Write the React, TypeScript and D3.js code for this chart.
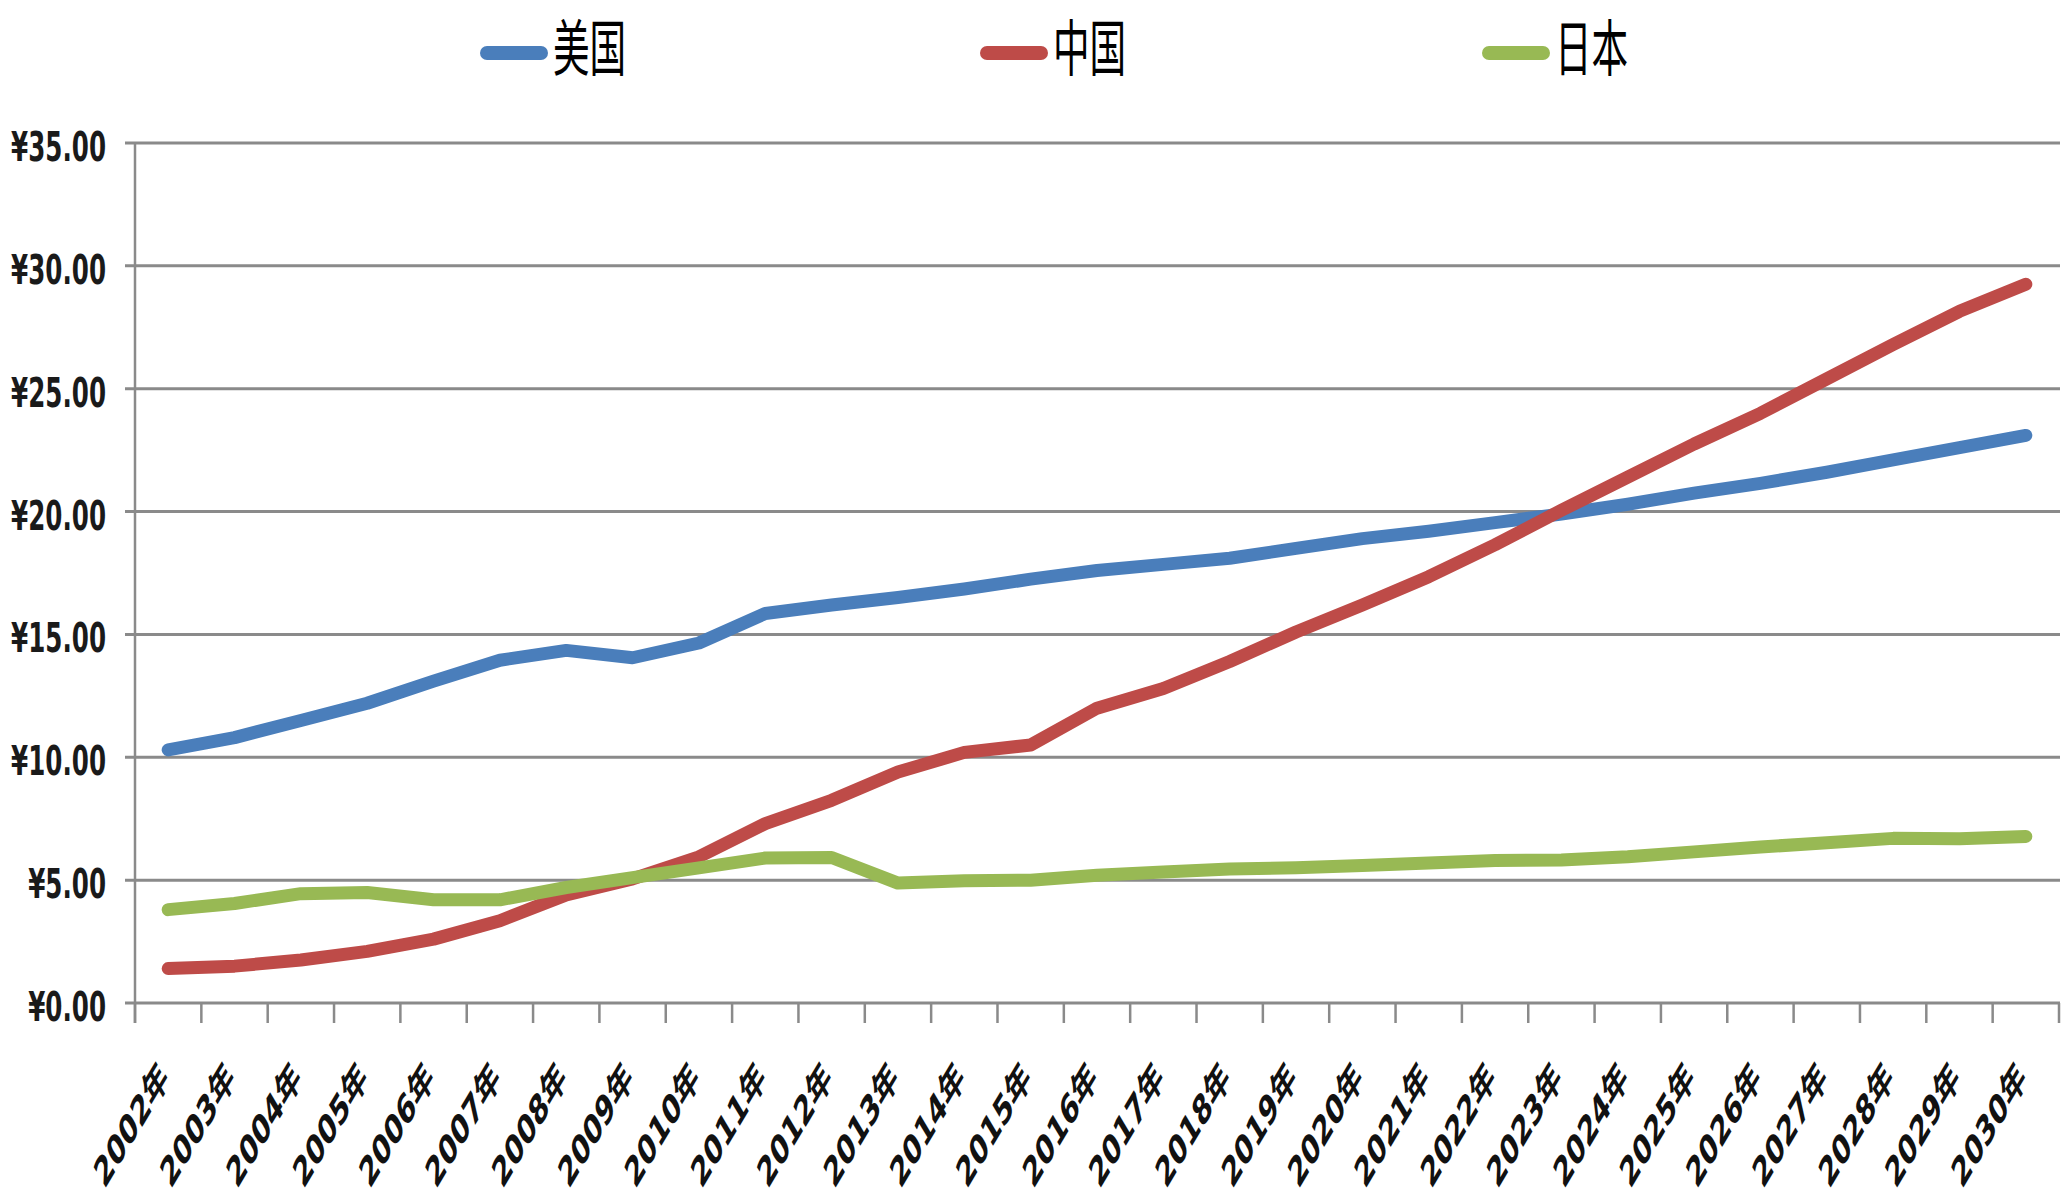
import * as d3 from 'd3';

const years = [
  '2002年', '2003年', '2004年', '2005年', '2006年', '2007年', '2008年', '2009年', '2010年', '2011年',
  '2012年', '2013年', '2014年', '2015年', '2016年', '2017年', '2018年', '2019年', '2020年', '2021年',
  '2022年', '2023年', '2024年', '2025年', '2026年', '2027年', '2028年', '2029年', '2030年',
];

const usa = [10.3, 10.8, 11.5, 12.2, 13.1, 13.95, 14.35, 14.05, 14.65, 15.85, 16.2, 16.5, 16.85, 17.25, 17.6,
  17.85, 18.1, 18.5, 18.9, 19.2, 19.55, 19.9, 20.3, 20.75, 21.15, 21.6, 22.1, 22.6, 23.1];
const china = [1.4, 1.5, 1.75, 2.1, 2.6, 3.35, 4.4, 5.05, 5.95, 7.3, 8.25, 9.4, 10.2, 10.5, 12.0,
  12.8, 13.9, 15.1, 16.2, 17.35, 18.65, 20.05, 21.4, 22.75, 24.0, 25.4, 26.8, 28.15, 29.25];
const japan = [3.8, 4.05, 4.45, 4.5, 4.2, 4.2, 4.7, 5.1, 5.5, 5.9, 5.92, 4.88, 4.98, 5.0, 5.2,
  5.33, 5.45, 5.5, 5.6, 5.7, 5.8, 5.82, 5.95, 6.15, 6.35, 6.52, 6.7, 6.68, 6.78];

const seriesNames = ['美国', '中国', '日本'];
const seriesColors = ['#4A7EBB', '#BE4B48', '#98B954'];
const yTicks = [0, 5, 10, 15, 20, 25, 30, 35];

// the picture is squeezed sideways, so text gets a horizontal squash
const SQ = 0.6;
const W = 2068;
const H = 1196;
const margin = { left: 135, right: 2059, top: 143, bottom: 1003 };

export default function App() {
  const series = [usa, china, japan];

  const x = d3.scaleBand<string>().domain(years).range([margin.left, margin.right]).paddingInner(0);
  const y = d3.scaleLinear().domain([0, 35]).range([margin.bottom, margin.top]);
  const cx = (c: string) => (x(c) as number) + x.bandwidth() / 2;

  const line = d3.line<number>()
    .x((_, i) => cx(years[i]))
    .y(d => y(d));

  const fmt = (v: number) => '¥' + v.toFixed(2);
  const gridColor = '#8a8a8a';
  const boundaries = d3.range(years.length + 1).map(i => margin.left + i * x.bandwidth());

  const legendX = [480, 980, 1482];

  return (
    <div style={{ position: 'absolute', left: 0, top: 0, background: '#fff' }}>
      <svg width={W} height={H} style={{ display: 'block' }}>
        <rect width={W} height={H} fill="#fff" />

        {/* gridlines + y labels */}
        {yTicks.map(t => (
          <g key={t}>
            <line x1={margin.left - 10} x2={margin.right + 1} y1={y(t)} y2={y(t)} stroke={gridColor} strokeWidth={3} />
            <text
              transform={`translate(106,${y(t) + 3 + 0.365 * 41}) scale(${SQ},1)`}
              textAnchor="end"
              fontFamily="DejaVu Sans"
              fontWeight="bold"
              fontSize={41}
              fill="#1a1a1a"
            >
              {fmt(t)}
            </text>
          </g>
        ))}

        {/* axes */}
        <line x1={margin.left} x2={margin.left} y1={margin.top} y2={margin.bottom + 20} stroke={gridColor} strokeWidth={2.5} />
        {boundaries.map((bx, i) => (
          <line key={i} x1={bx} x2={bx} y1={margin.bottom} y2={margin.bottom + 20} stroke={gridColor} strokeWidth={2.5} />
        ))}

        {/* x labels */}
        {years.map(c => (
          <text
            key={c}
            transform={`translate(${cx(c) + 2},1080) scale(${SQ},1) rotate(-45)`}
            textAnchor="end"
            fontFamily="DejaVu Sans, Noto Sans CJK SC"
            fontWeight="bold"
            fontSize={41}
            fill="#111"
          >
            {c}
          </text>
        ))}

        {/* series lines */}
        {series.map((s, i) => (
          <path
            key={seriesNames[i]}
            d={line(s) || ''}
            fill="none"
            stroke={seriesColors[i]}
            strokeWidth={13}
            strokeLinejoin="round"
            strokeLinecap="round"
          />
        ))}

        {/* legend */}
        {seriesNames.map((n, i) => (
          <g key={n}>
            <line x1={legendX[i] + 7} x2={legendX[i] + 61} y1={53} y2={53} stroke={seriesColors[i]} strokeWidth={14} strokeLinecap="round" />
            <text
              transform={`translate(${legendX[i] + 73},71) scale(${SQ},1)`}
              fontFamily="Noto Sans CJK SC"
              fontSize={61}
              fill="#000"
            >
              {n}
            </text>
          </g>
        ))}
      </svg>
    </div>
  );
}
